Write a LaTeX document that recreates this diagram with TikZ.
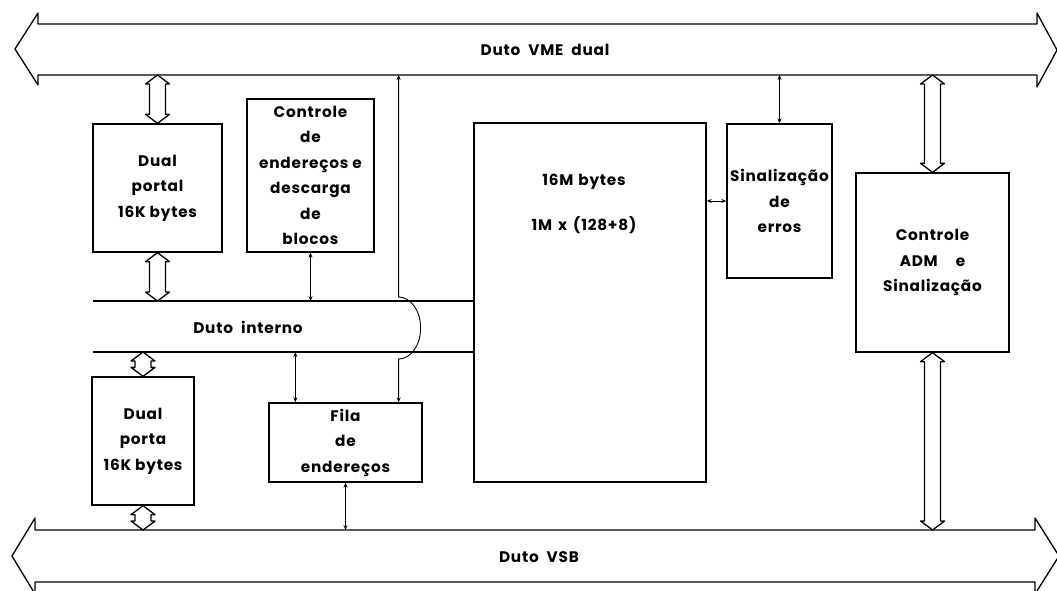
\documentclass[tikz,border=0pt]{standalone}
\usepackage{fontspec}
\setmainfont{Poppins}[LetterSpace=5]
\usetikzlibrary{arrows.meta,calc}

\tikzset{
  blk/.style={draw, line width=1.3pt, align=center, inner sep=0pt, font=\fontsize{15.3}{25.5}\selectfont\bfseries},
  bus/.style={line width=1.3pt, line join=round},
  sig/.style={line width=0.9pt, {Stealth[length=5pt,width=4pt]}-{Stealth[length=5pt,width=4pt]}},
  lbl/.style={font=\fontsize{15.3}{18}\selectfont\bfseries}
}
% hollow two-headed arrow from #1 (upper end) to #2 (lower end)
\newcommand\fatarrow[2]{%
  \draw[bus] let \p1=#1, \p2=#2 in
    (\x1,\y1) -- ++(12pt,-9pt) -- ++(-4pt,0pt) -- (\x1+8pt,\y2+9pt) -- ++(4pt,0pt)
    -- (\x1,\y2) -- ++(-12pt,9pt) -- ++(4pt,0pt) -- (\x1-8pt,\y1-9pt) -- ++(-4pt,0pt) -- cycle;}

\begin{document}
\begin{tikzpicture}[x=1pt,y=-1pt]
  \useasboundingbox (0,0) rectangle (1057,591);
  \clip (0,0) rectangle (1057,591);
  % buses
  \draw[bus] (38,24) -- (1037,24) -- (1037,13) -- (1057,50) -- (1037,87) -- (1037,75) -- (38,75) -- (38,85) -- (15,49) -- (38,13) -- cycle;
  \draw[bus] (35,530) -- (1035,530) -- (1035,518) -- (1059,556) -- (1035,594) -- (1035,582) -- (35,582) -- (35,594) -- (12,556) -- (35,518) -- cycle;
  \draw[bus] (93,301) -- (474,301) (93,352) -- (474,352);
  \coordinate (vmeB) at (0,75);
  \coordinate (intT) at (0,301);
  \coordinate (intB) at (0,352);
  \coordinate (vsbT) at (0,530);
  \node[lbl] (vme) at (545,50) {Duto\hspace{8pt}VME\hspace{8pt}dual};
  \node[lbl] (vsb) at (539,557) {Duto\hspace{8pt}VSB};
  \node[lbl] (int) at (248,327) {Duto\hspace{8pt}interno};

  % blocks
  \node[blk, minimum width=129pt, minimum height=128pt] (dpA) at (157.5,188) {Dual\\portal\\16K bytes};
  \node[blk, minimum width=127pt, minimum height=153pt] (ctl) at (310.5,175.5) {Controle\\de\\endereços e\\descarga\\de\\blocos};
  \node[blk, minimum width=232pt, minimum height=359pt] (mem) at (590,302.5) {};
  \node[lbl, align=center, font=\fontsize{15.3}{45}\selectfont\bfseries] (memtxt) at (584,204) {16M\hspace{5pt}bytes\\1M\hspace{6pt}x\hspace{6pt}(128+8)};
  \node[blk, minimum width=105pt, minimum height=154pt] (sin) at (779.5,201) {Sinalização\\de\\erros};
  \node[blk, minimum width=153pt, minimum height=179pt] (adm) at (932.5,262.5) {Controle\\ADM\hspace{18pt}e\\Sinalização};
  \node[blk, minimum width=102pt, minimum height=128pt] (dpB) at (143,441) {Dual\\porta\\16K bytes};
  \node[blk, minimum width=153pt, minimum height=79pt] (fila) at (345.5,442.5) {Fila\\de\\endereços};
  \coordinate (fq) at ([xshift=27pt]fila.north west);
  \coordinate (hop) at ([xshift=-24pt]fila.north east);

  % wide paths
  \fatarrow{(dpA.north |- vmeB)}{(dpA.north)}
  \fatarrow{(dpA.south)}{(dpA.south |- intT)}
  \fatarrow{(dpB.north |- intB)}{(dpB.north)}
  \fatarrow{(dpB.south)}{(dpB.south |- vsbT)}
  \fatarrow{(adm.north |- vmeB)}{(adm.north)}
  \fatarrow{(adm.south)}{(adm.south |- vsbT)}

  % signal lines
  \draw[sig] (ctl.south) -- (ctl.south |- intT);
  \draw[sig] (fq |- intB) -- (fq);
  \draw[sig] (fila.south) -- (fila.south |- vsbT);
  \draw[sig] (sin.north |- vmeB) -- (sin.north);
  \draw[sig] (mem.east |- sin.west) -- (sin.west);
  \draw[sig] (hop |- vmeB) -- ($(hop |- intT)+(0,-4)$)
    arc[start angle=90, end angle=-90, x radius=22pt, y radius=31pt] -- (hop);
\end{tikzpicture}
\end{document}
